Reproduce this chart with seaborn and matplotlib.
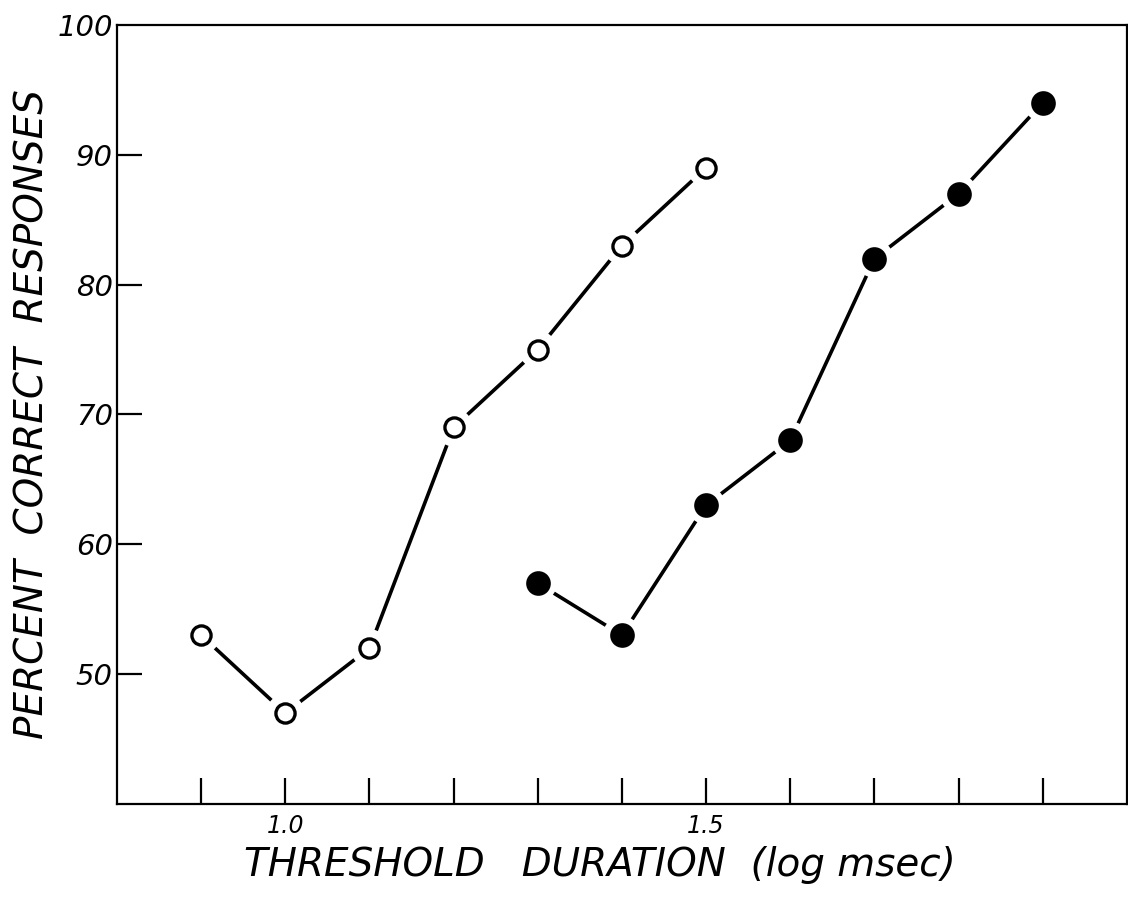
import pandas as pd
import matplotlib
matplotlib.use("Agg")
import matplotlib.pyplot as plt
import seaborn as sns

# values
x_open = [0.9, 1.0, 1.1, 1.2, 1.3, 1.4, 1.5]
y_open = [53, 47, 52, 69, 75, 83, 89]
x_filled = [1.3, 1.4, 1.5, 1.6, 1.7, 1.8, 1.9]
y_filled = [57, 53, 63, 68, 82, 87, 94]

x_ticks = [0.9, 1.0, 1.1, 1.2, 1.3, 1.4, 1.5, 1.6, 1.7, 1.8, 1.9]
x_ticklabels = ["", "1.0", "", "", "", "", "1.5", "", "", "", ""]
y_ticks = [50, 60, 70, 80, 90, 100]
y_ticklabels = ["50", "60", "70", "80", "90", "100"]

df_open = pd.DataFrame({"x": x_open, "y": y_open})
df_filled = pd.DataFrame({"x": x_filled, "y": y_filled})

sns.set_style("white")
plt.rcParams["font.family"] = ["DejaVu Sans"]
plt.rcParams["text.color"] = "black"
plt.rcParams["axes.labelcolor"] = "black"
plt.rcParams["xtick.color"] = "black"
plt.rcParams["ytick.color"] = "black"

fig = plt.figure(figsize=(11.28, 8.98), dpi=100)
ax = fig.add_axes([0.1037, 0.1047, 0.8953, 0.8675])

for df, filled in [(df_open, False), (df_filled, True)]:
    sns.lineplot(data=df, x="x", y="y", ax=ax, color="black", lw=2.6, zorder=2)
    # white halo so the line stops short of each marker
    sns.scatterplot(data=df, x="x", y="y", ax=ax, s=750, color="white",
                    edgecolor="none", zorder=3)
    if filled:
        sns.scatterplot(data=df, x="x", y="y", ax=ax, s=270, color="black",
                        edgecolor="black", zorder=4)
    else:
        sns.scatterplot(data=df, x="x", y="y", ax=ax, s=190, facecolor="white",
                        edgecolor="black", linewidth=2.4, zorder=4)

ax.set_xlim(0.8, 2.0)
ax.set_ylim(40, 100)

ax.set_xticks(x_ticks)
ax.set_xticklabels(x_ticklabels, fontsize=17, style="italic")
ax.set_yticks(y_ticks)
ax.set_yticklabels(y_ticklabels, fontsize=21, style="italic")
ax.tick_params(axis="x", bottom=True, direction="in", length=19, width=1.6, pad=7)
ax.tick_params(axis="y", left=True, direction="in", length=18, width=1.6, pad=3)
# no tick mark drawn at 100, the label sits at the corner
ax.yaxis.get_major_ticks()[-1].tick1line.set_visible(False)

for sp in ax.spines.values():
    sp.set_color("black")
    sp.set_linewidth(1.6)

ax.set_xlabel("THRESHOLD   DURATION  (log msec)", fontsize=28, style="italic",
              labelpad=6)
ax.xaxis.label.set_x(0.478)
ax.set_ylabel("PERCENT  CORRECT  RESPONSES", fontsize=28, style="italic",
              labelpad=4)

fig.savefig("out.png", dpi=100)
